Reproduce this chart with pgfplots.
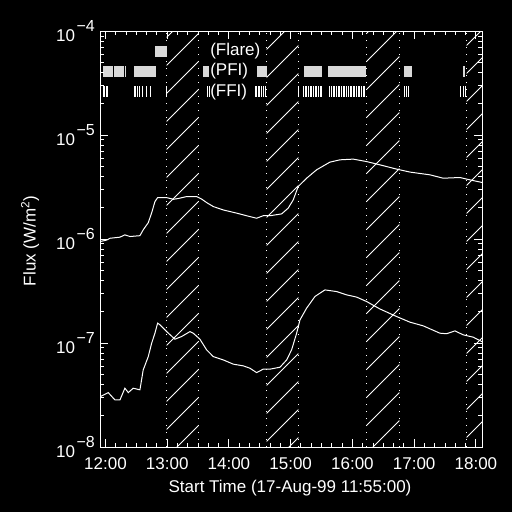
\documentclass[border=0pt]{standalone}
\usepackage{fontspec}
\setmainfont{Liberation Sans}
\usepackage{pgfplots}
\pgfplotsset{compat=1.18}
\usetikzlibrary{patterns.meta}
\definecolor{barc}{gray}{0.85}
\newcommand{\dec}[1]{10\kern1.5pt\raisebox{0.6em}{\fontsize{16}{16}\selectfont −#1}}
\pgfplotstableread{
t f
-5 9.5e-7
1.2 9.8e-7
4.4 1.02e-6
14.1 1.045e-6
18.9 1.10e-6
23.8 1.06e-6
33.5 1.08e-6
36.7 1.23e-6
41.6 1.44e-6
44.9 1.79e-6
48.1 2.30e-6
50.7 2.51e-6
59.5 2.51e-6
66 2.42e-6
70.7 2.46e-6
78.9 2.57e-6
88.6 2.57e-6
93.5 2.43e-6
98.3 2.25e-6
104.8 2.06e-6
114.5 1.91e-6
127.5 1.78e-6
137.2 1.68e-6
146.9 1.59e-6
153.3 1.68e-6
159.8 1.68e-6
171.2 1.75e-6
177.6 1.99e-6
182.5 2.39e-6
187.3 3.21e-6
195.5 3.86e-6
205.2 4.65e-6
218.1 5.51e-6
227.9 5.80e-6
240.8 5.89e-6
253.8 5.58e-6
266.7 5.19e-6
283.0 4.72e-6
295.9 4.42e-6
315.3 4.16e-6
328.2 3.86e-6
344.5 3.92e-6
354.2 3.72e-6
366 3.51e-6
}\longch
\pgfplotstableread{
t f
-5 3.05e-8
2.7 3.34e-8
9.2 2.84e-8
14.1 2.84e-8
18.9 3.68e-8
22.2 3.34e-8
27.0 3.68e-8
33.5 3.55e-8
36.7 5.52e-8
41.6 7.41e-8
44.9 9.98e-8
48.1 1.245e-7
50.7 1.556e-7
53.0 1.50e-7
59.5 1.29e-7
67.5 1.09e-7
74.0 1.156e-7
82.1 1.29e-7
85.3 1.245e-7
91.8 1.09e-7
98.3 8.61e-8
104.8 7.41e-8
114.5 6.89e-8
124.2 6.27e-8
133.9 6.04e-8
140.4 5.73e-8
146.9 5.20e-8
153.3 5.61e-8
159.8 5.61e-8
169.6 5.86e-8
176.1 6.89e-8
180.9 8.61e-8
185.8 1.245e-7
189.0 1.67e-7
195.5 2.17e-7
203.6 2.81e-7
213.3 3.25e-7
224.7 3.13e-7
234.4 2.91e-7
244.1 2.77e-7
253.8 2.51e-7
266.7 2.13e-7
283.0 1.80e-7
295.9 1.59e-7
308.8 1.465e-7
325.0 1.245e-7
331.5 1.23e-7
339.6 1.31e-7
347.7 1.20e-7
357.4 1.14e-7
366 1.03e-7
}\shortch
\newcommand{\hatch}[2]{\addplot[draw=none, pattern={Lines[angle=45,distance=19.8pt,line width=0.8pt]}, pattern color=white] coordinates {(#1,1e-8) (#1,1e-4) (#2,1e-4) (#2,1e-8)} -- cycle;}
\newcommand{\vdot}[1]{\addplot[white, line width=1pt, dash pattern=on 1pt off 6pt] coordinates {(#1,1e-8) (#1,1e-4)};}
\newcommand{\pfi}[2]{\addplot[draw=none, fill=barc] coordinates {(#1,4.64e-5) (#2,4.64e-5) (#2,3.63e-5) (#1,3.63e-5)} -- cycle;}
\begin{document}
\begin{tikzpicture}
\fill[black] (0pt,0pt) rectangle (512pt,512pt);
\path[use as bounding box] (0pt,0pt) rectangle (512pt,512pt);
\begin{axis}[
  at={(100.3pt,65pt)}, anchor=south west,
  scale only axis, width=382pt, height=415.7pt,
  axis on top,
  ymode=log, ymin=1e-8, ymax=1e-4,
  xmin=-5, xmax=366.2,
  axis line style={white, line width=1pt},
  tick style={draw=white, line width=1pt},
  tick align=inside,
  major tick length=8pt, minor tick length=4pt,
  xtick={0,60,120,180,240,300,360},
  xticklabels={12:00,13:00,14:00,15:00,16:00,17:00,18:00},
  minor xtick={10,20,30,40,50,70,80,90,100,110,130,140,150,160,170,190,200,210,220,230,250,260,270,280,290,310,320,330,340,350},
  ytick={1e-8,1e-7,1e-6,1e-5,1e-4},
  extra y ticks={2e-8,3e-8,4e-8,5e-8,6e-8,7e-8,8e-8,9e-8,2e-7,3e-7,4e-7,5e-7,6e-7,7e-7,8e-7,9e-7,2e-6,3e-6,4e-6,5e-6,6e-6,7e-6,8e-6,9e-6,2e-5,3e-5,4e-5,5e-5,6e-5,7e-5,8e-5,9e-5},
  extra y tick labels={},
  extra y tick style={major tick length=4pt, tick style={draw=white, line width=1pt}},
  yticklabels={\dec{8},\dec{7},\dec{6},\dec{5},\dec{4}},
  tick label style={font=\fontsize{17}{20}\selectfont, text=white},
  xticklabel style={yshift=-7pt},
  yticklabel style={xshift=-2pt},
  label style={font=\fontsize{17}{20}\selectfont, text=white},
  xlabel={Start Time (17-Aug-99 11:55:00)},
  xlabel style={at={(axis description cs:0.4966,-0.1)}, anchor=center},
  ylabel={Flux (W/m\textsuperscript{2})},
  ylabel style={at={(axis description cs:-0.184,0.4955)}, anchor=center},
]
\hatch{59.5}{90.2}
\hatch{156.6}{187.5}
\hatch{253.8}{285.5}
\hatch{351.0}{367}
\vdot{59.5}\vdot{90.2}\vdot{156.6}\vdot{187.5}\vdot{253.8}\vdot{285.5}\vdot{351.0}
% Flare
\addplot[draw=none, fill=barc] coordinates {(48.1,7.22e-5) (59.5,7.22e-5) (59.5,5.66e-5) (48.1,5.66e-5)} -- cycle;
% PFI
\pfi{-2.4}{7.3}\pfi{8.3}{18.3}\pfi{18.9}{19.9}\pfi{27.7}{49.1}\pfi{95.0}{100.9}\pfi{147.5}{156.6}
\pfi{192.9}{210.4}\pfi{216.2}{253.1}\pfi{290.1}{297.8}\pfi{347.1}{347.9}\pfi{348.8}{349.6}
% FFI
\addplot[only marks, mark=|, mark size=5.5pt, mark options={white, line width=0.9pt}] coordinates {
(-4.4,2.61e-5) (-2.4,2.61e-5) (-0.5,2.61e-5) (1.0,2.61e-5) (2.4,2.61e-5)
(28.0,2.61e-5) (29.6,2.61e-5) (31.3,2.61e-5) (32.8,2.61e-5) (36.1,2.61e-5) (40.0,2.61e-5) (44.2,2.61e-5)
(59.3,2.61e-5) (99.6,2.61e-5) (101.5,2.61e-5)
(145.3,2.61e-5) (146.9,2.61e-5) (148.5,2.61e-5) (150.1,2.61e-5) (151.8,2.61e-5) (153.3,2.61e-5) (155.0,2.61e-5)
(187.3,2.61e-5)
(192.2,2.61e-5) (193.9,2.61e-5) (195.5,2.61e-5) (197.5,2.61e-5) (198.8,2.61e-5) (200.4,2.61e-5) (201.9,2.61e-5) (203.6,2.61e-5) (205.2,2.61e-5) (207.2,2.61e-5) (208.5,2.61e-5) (209.7,2.61e-5)
(218.1,2.61e-5) (219.7,2.61e-5) (221.4,2.61e-5) (223.0,2.61e-5) (224.6,2.61e-5) (226.2,2.61e-5) (227.8,2.61e-5) (229.5,2.61e-5) (231.1,2.61e-5) (232.7,2.61e-5) (234.3,2.61e-5) (235.9,2.61e-5) (237.6,2.61e-5) (239.2,2.61e-5) (240.8,2.61e-5) (242.4,2.61e-5) (244.0,2.61e-5) (245.7,2.61e-5) (247.3,2.61e-5) (248.9,2.61e-5) (250.5,2.61e-5) (252.1,2.61e-5)
(290.1,2.61e-5) (292.5,2.61e-5) (294.9,2.61e-5)
(345.4,2.61e-5) (347.4,2.61e-5) (349.8,2.61e-5)
};
\addplot[white, line width=1pt] table[x=t,y=f] {\longch};
\addplot[white, line width=1pt] table[x=t,y=f] {\shortch};
\node[anchor=west, text=white, font=\fontsize{17}{20}\selectfont, inner sep=0pt] at (axis cs:101.7,6.4e-5) {(Flare)};
\node[anchor=west, text=white, font=\fontsize{17}{20}\selectfont, inner sep=0pt] at (axis cs:101.7,4.1e-5) {(PFI)};
\node[anchor=west, text=white, font=\fontsize{17}{20}\selectfont, inner sep=0pt] at (axis cs:101.7,2.61e-5) {(FFI)};
\end{axis}
\end{tikzpicture}
\end{document}
